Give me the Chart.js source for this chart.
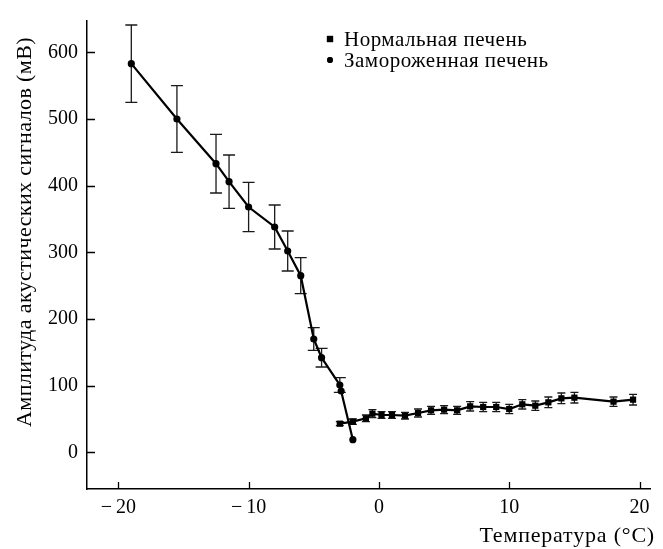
<!DOCTYPE html>
<html>
<head>
<meta charset="utf-8">
<script src="https://cdn.jsdelivr.net/npm/chart.js@4.4.1/dist/chart.umd.min.js"></script>
<style>
  html, body { margin: 0; padding: 0; background: #fff; }
  #wrap { width: 663px; height: 549px; position: relative; }
</style>
</head>
<body>
<div id="wrap"><canvas id="chart"></canvas></div>
<script>
// normal liver: temperature (°C), amplitude (mV), error (mV)
const normalTemp = [-3, -2, -1, -0.5, 0.2, 1, 2, 3, 4, 5, 6, 7, 8, 9, 10, 11, 12, 13, 14, 15, 18, 19.5];
const normalAmp  = [43, 46, 51, 58, 56, 56, 55, 59, 63, 64, 63, 69, 68, 68, 65, 72, 70, 75, 81, 82, 76, 79];
const normalErr  = [3, 4, 5, 6, 5, 5, 5, 6, 6, 6, 6, 7, 7, 7, 7, 7, 7, 8, 8, 8, 7, 8];

// frozen liver
const frozenTemp = [-19, -15.5, -12.5, -11.5, -10, -8, -7, -6, -5, -4.4, -3, -2.9, -2];
const frozenAmp  = [583, 500, 433, 406, 368, 338, 302, 265, 170, 142, 101, 92, 19];
const frozenErr  = [58, 50, 44, 40, 37, 33, 30, 27, 17, 14, 11, 0, 0];

const xTicks = [-20, -10, 0, 10, 20];
const yTicks = [0, 100, 200, 300, 400, 500, 600];

const xTitle = "Температура (°C)";
const yTitle = "Амплитуда акустических сигналов (мВ)";

const FONT = "'Liberation Serif', 'Times New Roman', serif";
const INK = "#000";

const toPoints = (xs, ys) => xs.map((x, i) => ({ x, y: ys[i] }));
const minus = (v) => (v < 0 ? "\u2212\u2009" + Math.abs(v) : String(v));

// vertical error bars with caps, under the markers
const errorBars = {
  id: "errorBars",
  beforeDatasetsDraw(chart) {
    const { ctx, scales: { x, y } } = chart;
    ctx.save();
    ctx.strokeStyle = "#1a1a1a";
    ctx.lineWidth = 1.3;
    chart.data.datasets.forEach((ds) => {
      ds.data.forEach((p, i) => {
        const e = ds.errors[i];
        if (!e) return;
        const px = x.getPixelForValue(p.x);
        const top = y.getPixelForValue(p.y + e);
        const bot = y.getPixelForValue(p.y - e);
        const w = ds.capHalf;
        ctx.beginPath();
        ctx.moveTo(px, top); ctx.lineTo(px, bot);
        ctx.moveTo(px - w, top); ctx.lineTo(px + w, top);
        ctx.moveTo(px - w, bot); ctx.lineTo(px + w, bot);
        ctx.stroke();
      });
    });
    ctx.restore();
  },
};

// tick marks pointing into the plot, plus both axis titles
const axisDecor = {
  id: "axisDecor",
  afterDraw(chart) {
    const { ctx, chartArea, scales: { x, y } } = chart;
    ctx.save();
    ctx.strokeStyle = INK;
    ctx.lineWidth = 1.3;
    ctx.beginPath();
    xTicks.forEach((v) => {
      const px = Math.round(x.getPixelForValue(v)) + 0.5;
      ctx.moveTo(px, chartArea.bottom); ctx.lineTo(px, chartArea.bottom - 7);
    });
    yTicks.forEach((v) => {
      const py = Math.round(y.getPixelForValue(v)) + 0.5;
      ctx.moveTo(chartArea.left, py); ctx.lineTo(chartArea.left + 8, py);
    });
    ctx.stroke();

    ctx.fillStyle = INK;
    ctx.font = "22px " + FONT;
    ctx.textBaseline = "middle";
    ctx.letterSpacing = "0.8px";
    ctx.textAlign = "right";
    ctx.fillText(xTitle, 655, 536);

    ctx.letterSpacing = "0.4px";
    ctx.textAlign = "center";
    ctx.translate(25, 232);
    ctx.rotate(-Math.PI / 2);
    ctx.fillText(yTitle, 0, 0);
    ctx.restore();
  },
};

// two-row legend inside the plot, top right
const cornerLegend = {
  id: "cornerLegend",
  afterDraw(chart) {
    const { ctx } = chart;
    ctx.save();
    ctx.font = "21px " + FONT;
    ctx.letterSpacing = "0.5px";
    ctx.fillStyle = INK;
    ctx.textBaseline = "middle";
    chart.data.datasets.forEach((ds, i) => {
      const y = 39 + i * 21;
      Chart.helpers.drawPoint(ctx, {
        pointStyle: ds.pointStyle,
        radius: ds.pointStyle === "rect" ? 4.4 : 2.9,
        borderWidth: 0,
      }, 330, y);
      ctx.fill();
      ctx.fillText(ds.label, 344, y + 1);
    });
    ctx.restore();
  },
};

new Chart(document.getElementById("chart"), {
  type: "scatter",
  data: {
    datasets: [
      {
        label: "Нормальная печень",
        data: toPoints(normalTemp, normalAmp),
        errors: normalErr,
        capHalf: 4,
        showLine: true,
        borderColor: INK,
        backgroundColor: INK,
        borderWidth: 2.2,
        pointStyle: "rect",
        pointRadius: 4.4,
        pointBorderWidth: 0,
      },
      {
        label: "Замороженная печень",
        data: toPoints(frozenTemp, frozenAmp),
        errors: frozenErr,
        capHalf: 6,
        showLine: true,
        borderColor: INK,
        backgroundColor: INK,
        borderWidth: 2.2,
        pointStyle: "circle",
        pointRadius: 3.6,
        pointBorderWidth: 0,
      },
    ],
  },
  options: {
    responsive: true,
    maintainAspectRatio: false,
    animation: false,
    layout: { padding: { top: 10, right: 13, left: 0, bottom: 0 } },
    plugins: {
      legend: { display: false },
      tooltip: { enabled: false },
    },
    scales: {
      x: {
        type: "linear",
        min: -22.4,
        max: 20.8,
        afterBuildTicks: (s) => { s.ticks = xTicks.map((value) => ({ value })); },
        afterFit: (s) => { s.height = 60; },
        grid: { display: false, drawTicks: false },
        border: { display: true, color: INK, width: 1.5 },
        ticks: {
          color: INK,
          font: { family: FONT, size: 20 },
          padding: 7,
          maxRotation: 0,
          callback: (v) => minus(v),
        },
      },
      y: {
        type: "linear",
        min: -55,
        max: 647,
        afterBuildTicks: (s) => { s.ticks = yTicks.map((value) => ({ value })); },
        afterFit: (s) => { s.width = 87; },
        grid: { display: false, drawTicks: false },
        border: { display: true, color: INK, width: 1.5 },
        ticks: {
          color: INK,
          font: { family: FONT, size: 20 },
          padding: 9,
          callback: (v) => minus(v),
        },
      },
    },
  },
  plugins: [errorBars, axisDecor, cornerLegend],
});
</script>
</body>
</html>
